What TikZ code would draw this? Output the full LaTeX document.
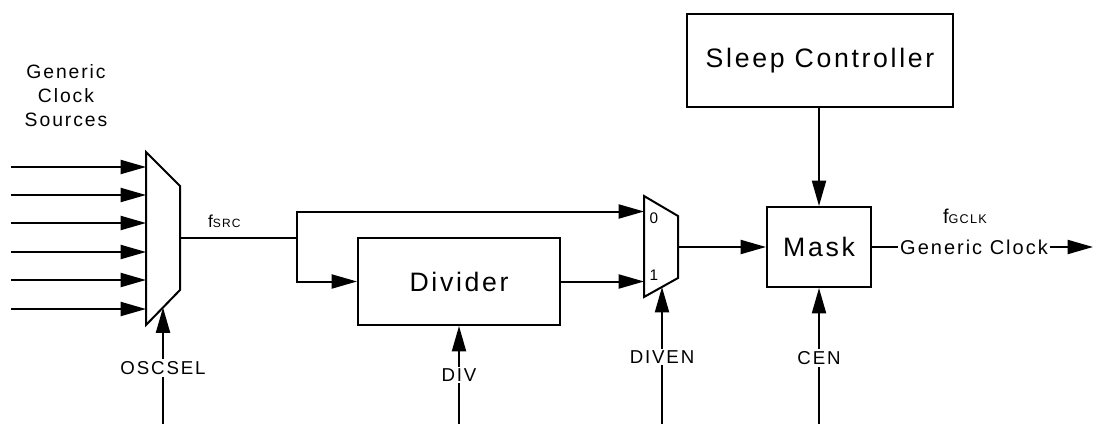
\documentclass[tikz,border=0pt]{standalone}
\usepackage{fontspec}
\setmainfont{Liberation Sans}[LetterSpace=10]
\usetikzlibrary{arrows.meta}
\begin{document}
\begin{tikzpicture}[x=0.75pt,y=-0.75pt,line width=1.5pt,line join=miter,
  arr/.style={-{Triangle[length=19pt,width=10.5pt]}},
  box/.style={draw,line width=1.5pt,inner sep=0pt,font=\fontsize{20}{24}\selectfont},
  lbl/.style={fill=white,inner sep=1.5pt,font=\fontsize{14}{16}\selectfont},
  pin/.style={inner sep=0pt,font=\fontsize{11.5}{13}\selectfont}]
\useasboundingbox (0,0) rectangle (1094,424);

% boxes
\node[box,minimum width=199.5pt,minimum height=69.75pt] (sleep) at (820,60.5) {Sleep Controller};
\node[box,minimum width=151.5pt,minimum height=65.25pt] (div) at (459,281.5) {Divider};
\node[box,minimum width=78pt,minimum height=60pt] (mask) at (819,247) {Mask};

% source label
\node[anchor=north,inner sep=0pt,align=center,font=\fontsize{14.5}{18}\selectfont] (srclbl) at (66,63) {Generic\\Clock\\Sources};

% mux 1
\coordinate (m1tl) at (146,152);
\coordinate (m1tr) at (180,186);
\coordinate (m1br) at (180,290);
\coordinate (m1bl) at (146,325);
\coordinate (m1o) at (180,238);
\coordinate (m1s) at (163,307.5);
\draw (m1tl) -- (m1tr) -- (m1br) -- (m1bl) -- cycle;

% mux 2
\coordinate (m2tl) at (644,196);
\coordinate (m2tr) at (678,216);
\coordinate (m2br) at (678,278);
\coordinate (m2bl) at (644,297);
\coordinate (m2o) at (678,247);
\coordinate (m2i0) at (644,211.5);
\coordinate (m2s) at (662,287);
\draw (m2tl) -- (m2tr) -- (m2br) -- (m2bl) -- cycle;
\node[pin] (p0) at (654,218) {0};
\node[pin] (p1) at (654,275) {1};

% source inputs
\foreach \y [count=\i] in {167,195,223,252,280,309} {
  \coordinate (src\i) at (11,\y);
  \draw[arr] (src\i) -- (src\i -| m1tl);
}

% fSRC path
\coordinate (jn) at (297,238);
\draw (m1o) -- (jn);
\node[anchor=base west,inner sep=0pt] (fsrc) at (207,227)
  {\fontsize{13}{15}\selectfont f\fontsize{9}{10}\selectfont SRC};
\draw[arr] (jn) |- (m2i0);
\draw[arr] (jn) |- (div.west);
\draw[arr] (div.east) -- (div.east -| m2tl);

% mux2 to mask
\draw[arr] (m2o) -- (m2o -| mask.west);
\draw[arr] (sleep.south -| mask.north) -- (mask.north);

% output
\node[inner sep=1pt,font=\fontsize{15}{18}\selectfont] (gclk) at (974,247) {Generic Clock};
\coordinate (outend) at (1093,247);
\draw (mask.east) -- (gclk.west);
\draw[arr] (gclk.east) -- (outend);
\node[anchor=base west,inner sep=0pt] (fgclk) at (942,223)
  {\fontsize{15}{18}\selectfont f\fontsize{9.5}{11}\selectfont GCLK};

% control inputs
\coordinate (oscin) at (163,424);
\coordinate (divin) at (459,424);
\coordinate (divenin) at (662,424);
\coordinate (cenin) at (819,424);
\draw[arr] (oscin) -- (m1s);
\draw[arr] (divin) -- (div.south);
\draw[arr] (divenin) -- (m2s);
\draw[arr] (cenin) -- (mask.south);
\node[lbl] (osclbl) at (163,368) {OSCSEL};
\node[lbl] (divlbl) at (459,375) {DIV};
\node[lbl] (divenlbl) at (662,357) {DIVEN};
\node[lbl] (cenlbl) at (819,358) {CEN};
\end{tikzpicture}
\end{document}
